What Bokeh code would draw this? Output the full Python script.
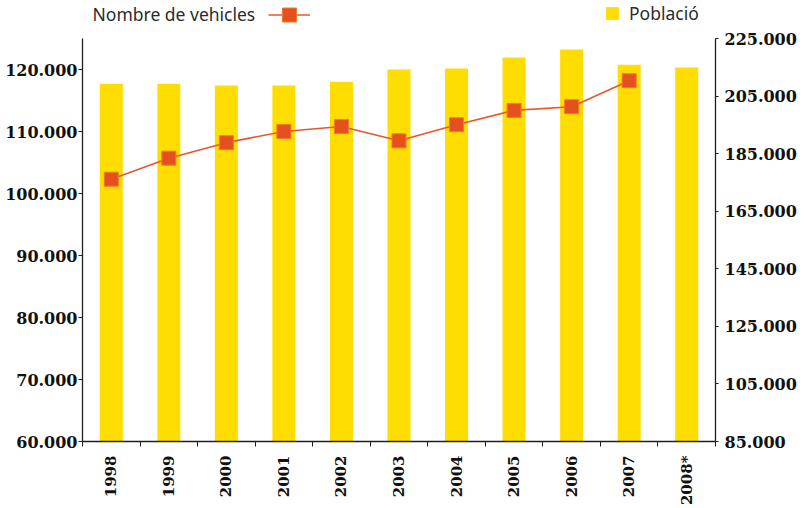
import math
from bokeh.plotting import figure
from bokeh.models import Range1d, LinearAxis, FixedTicker, Legend, LegendItem, Label, ColumnDataSource
from bokeh.embed import file_html
from bokeh.resources import INLINE

years = ["1998", "1999", "2000", "2001", "2002", "2003", "2004", "2005", "2006", "2007", "2008*"]
vehicles = [102300, 105700, 108200, 110000, 110800, 108500, 111100, 113400, 114000, 118200, float("nan")]
population = [209300, 209300, 208700, 208700, 210000, 214200, 214600, 218400, 221200, 215900, 214900]

left_ticks = [60000, 70000, 80000, 90000, 100000, 110000, 120000]
left_labels = ["60.000", "70.000", "80.000", "90.000", "100.000", "110.000", "120.000"]
right_ticks = [85000, 105000, 125000, 145000, 165000, 185000, 205000, 225000]
right_labels = ["85.000", "105.000", "125.000", "145.000", "165.000", "185.000", "205.000", "225.000"]

left_bounds = (60000, 125000)
right_bounds = (85000, 225000)

BAR = "#FFDD00"
LINE = "#E8562A"
MARK = "#E5501E"
AXIS = "#1f1f1f"
TICKFONT = "DejaVu Serif"
TEXTFONT = "Noto Sans"

# layout: the frame reaches the top of the canvas so the legend texts are not clipped;
# the axes themselves are bounded to the value span (their top lies 38px below).
W, H = 810, 508
B_LEFT, B_RIGHT, B_BOTTOM = 82, 95, 67
AXIS_TOP_PX = 38
frame_h = H - B_BOTTOM
span_h = frame_h - AXIS_TOP_PX


def extended(bounds):
    lo, hi = bounds
    return Range1d(lo, lo + (hi - lo) * frame_h / span_h)


xc = [i + 0.5 for i in range(len(years))]
src = ColumnDataSource(dict(x=xc, veh=vehicles, pop=population, year=years))

p = figure(width=W, height=H, output_backend="svg", toolbar_location=None,
           x_range=Range1d(0, len(years)), y_range=extended(left_bounds),
           min_border_left=B_LEFT, min_border_right=B_RIGHT, min_border_top=0,
           min_border_bottom=B_BOTTOM)
p.extra_y_ranges = {"pop": extended(right_bounds)}
p.grid.visible = False
p.outline_line_color = None
p.background_fill_color = "white"
p.border_fill_color = "white"

bars = p.vbar(x="x", width=0.4, bottom=right_bounds[0], top="pop",
              y_range_name="pop", fill_color=BAR, line_color=None, source=src)
ln = p.line(x="x", y="veh", line_color=LINE, line_width=1.6, source=src)
sc = p.scatter(x="x", y="veh", marker="square", size=14, fill_color=MARK,
               line_color="#F07A2A", line_width=1, source=src)

# left axis
ya = p.yaxis[0]
ya.bounds = left_bounds
ya.ticker = FixedTicker(ticks=left_ticks, minor_ticks=[])
ya.major_label_overrides = {t: l for t, l in zip(left_ticks, left_labels)}
ya.major_tick_out = 4
ya.major_tick_in = 0
ya.minor_tick_out = 0
ya.major_label_standoff = 1

# right axis
ra = LinearAxis(y_range_name="pop", bounds=right_bounds)
ra.ticker = FixedTicker(ticks=right_ticks, minor_ticks=[])
ra.major_label_overrides = {t: l for t, l in zip(right_ticks, right_labels)}
ra.major_tick_out = 3
ra.major_tick_in = 0
ra.minor_tick_out = 0
ra.major_label_standoff = 6
p.add_layout(ra, "right")

# bottom axis
xa = p.xaxis[0]
xa.ticker = FixedTicker(ticks=xc, minor_ticks=list(range(len(years) + 1)))
xa.major_label_overrides = {x: y for x, y in zip(xc, years)}
xa.major_tick_out = 0
xa.major_tick_in = 0
xa.minor_tick_out = 5
xa.minor_tick_in = 0
xa.major_label_orientation = math.pi / 2
xa.major_label_standoff = 9

for ax in (ya, ra):
    ax.major_label_text_font_size = "16px"
xa.major_label_text_font_size = "15px"

for ax in (ya, ra, xa):
    ax.axis_line_color = AXIS
    ax.axis_line_width = 1.3
    ax.major_tick_line_color = AXIS
    ax.minor_tick_line_color = AXIS
    ax.major_label_text_font = TICKFONT
    ax.major_label_text_font_style = "bold"
    ax.major_label_text_color = "#111111"

# legends (screen px from the frame's bottom-left corner)
leg_pop = Legend(items=[LegendItem(label="Població", renderers=[bars])],
                 location=(522, frame_h - 25), orientation="horizontal",
                 glyph_width=16, glyph_height=16, label_standoff=9,
                 padding=0, margin=0, spacing=0, border_line_color=None,
                 background_fill_alpha=0,
                 label_text_font=TEXTFONT, label_text_font_size="17.5px",
                 label_text_color="#2b2b2b")
p.add_layout(leg_pop, "center")

leg_veh = Legend(items=[LegendItem(label="", renderers=[ln, sc])],
                 location=(186, frame_h - 32), orientation="horizontal",
                 glyph_width=42, glyph_height=35, label_standoff=0,
                 padding=0, margin=0, spacing=0, border_line_color=None,
                 background_fill_alpha=0,
                 label_text_font=TEXTFONT, label_text_font_size="16px")
p.add_layout(leg_veh, "center")

lab = Label(x=10, y=frame_h - 13, x_units="screen", y_units="screen",
            text="Nombre de vehicles", text_font=TEXTFONT, text_font_size="17.5px",
            text_color="#2b2b2b", text_baseline="middle", text_align="left")
p.add_layout(lab)

open("out.html", "w").write(file_html(p, INLINE))
